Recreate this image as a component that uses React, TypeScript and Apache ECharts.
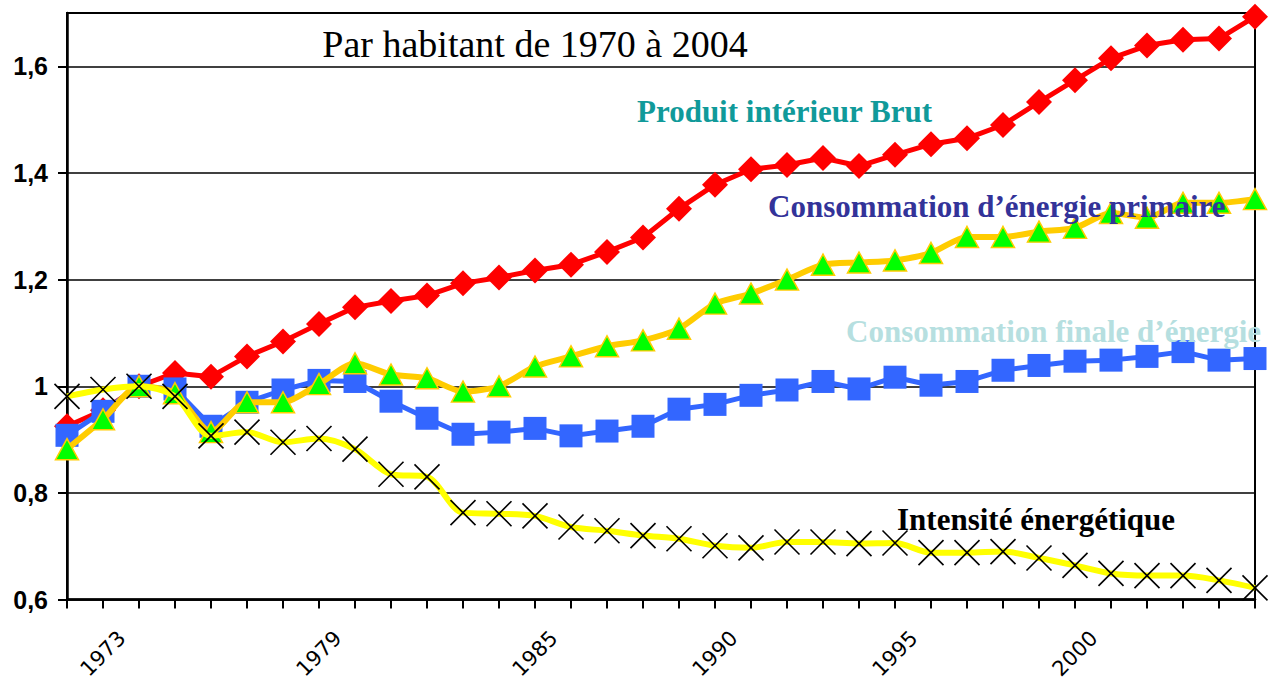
import React, { useEffect, useRef } from "react";
import * as echarts from "echarts";

const years: string[] = [
  "1972","1973","1974","1975","1976","1977","1978","1979","1980","1981","1982",
  "1983","1984","1985","1986","1987","1988","1989","1990","1991","1992","1993",
  "1994","1995","1996","1997","1998","1999","2000","2001","2002","2003","2004","2005",
];
const shownYears: string[] = ["1973", "1979", "1985", "1990", "1995", "2000"];

const pib: number[] = [
  0.925, 0.955, 1.0, 1.025, 1.018, 1.056, 1.084, 1.117, 1.148, 1.16, 1.17,
  1.193, 1.204, 1.217, 1.228, 1.252, 1.279, 1.333, 1.378, 1.407, 1.415, 1.428,
  1.413, 1.434, 1.454, 1.465, 1.49, 1.533, 1.574, 1.615, 1.639, 1.65, 1.652, 1.693,
];
const finale: number[] = [
  0.908, 0.953, 1.0, 0.995, 0.925, 0.97, 0.993, 1.011, 1.009, 0.972, 0.94,
  0.91, 0.914, 0.921, 0.907, 0.916, 0.925, 0.957, 0.966, 0.983, 0.993, 1.009,
  0.995, 1.017, 1.002, 1.009, 1.03, 1.039, 1.047, 1.049, 1.056, 1.065, 1.049, 1.052,
];
const primaire: number[] = [
  0.882, 0.938, 1.0, 0.987, 0.914, 0.97, 0.97, 1.004, 1.043, 1.022, 1.015,
  0.99, 1.0, 1.037, 1.056, 1.075, 1.086, 1.108, 1.155, 1.174, 1.2, 1.228,
  1.232, 1.236, 1.25, 1.28, 1.28, 1.29, 1.297, 1.325, 1.316, 1.344, 1.344, 1.351,
];
const intensite: number[] = [
  0.981, 0.994, 1.0, 0.981, 0.907, 0.914, 0.895, 0.902, 0.882, 0.835, 0.83,
  0.763, 0.761, 0.757, 0.736, 0.729, 0.72, 0.714, 0.701, 0.697, 0.708, 0.708,
  0.705, 0.706, 0.688, 0.688, 0.69, 0.678, 0.664, 0.649, 0.645, 0.645, 0.636, 0.622,
];
const yTicks: number[] = [0.6, 0.8, 1, 1.2, 1.4, 1.6];

const titleText = "Par habitant de 1970 à 2004";
const labelPib = "Produit intérieur Brut";
const labelPrimaire = "Consommation d\u2019énergie primaire";
const labelFinale = "Consommation finale d\u2019énergie";
const labelIntensite = "Intensité énergétique";

export default function App() {
  const ref = useRef<HTMLDivElement>(null);
  useEffect(() => {
    if (!ref.current) return;
    const chart = echarts.init(ref.current, null, { renderer: "svg" });
    const serifBold = {
      fontFamily: "'Liberation Serif', 'Times New Roman', serif",
      fontWeight: "bold" as const,
      fontSize: 31,
    };
    chart.setOption({
      animation: false,
      backgroundColor: "#fff",
      grid: {
        left: 67,
        right: 17,
        top: 13,
        bottom: 81,
        show: true,
        borderColor: "#000",
        borderWidth: 2,
        backgroundColor: "transparent",
      },
      xAxis: {
        type: "category",
        data: years,
        boundaryGap: false,
        axisLine: { lineStyle: { color: "#000", width: 2.5 } },
        axisTick: { interval: 0, length: 9, lineStyle: { color: "#000", width: 2 } },
        splitLine: { show: false },
        axisLabel: {
          interval: (_i: number, v: string) => shownYears.includes(v),
          rotate: 45,
          align: "center",
          verticalAlign: "middle",
          margin: 54,
          color: "#000",
          fontFamily: "'DejaVu Sans', sans-serif",
          fontSize: 21,
        },
      },
      yAxis: {
        type: "value",
        min: 0.6,
        max: 1.7,
        interval: 0.2,
        axisLine: { show: true, lineStyle: { color: "#000", width: 2.5 } },
        axisTick: {
          show: true,
          length: 9,
          customValues: yTicks,
          lineStyle: { color: "#000", width: 2 },
        },
        splitLine: { show: true, lineStyle: { color: "#000", width: 1.5 } },
        axisLabel: {
          customValues: yTicks,
          margin: 19,
          color: "#000",
          fontFamily: "'Liberation Sans', Arial, sans-serif",
          fontWeight: "bold",
          fontSize: 25,
          formatter: (v: number) => {
            const r = Math.round(v * 10) / 10;
            if (Math.abs(r - 1.7) < 1e-6) return "";
            return String(r).replace(".", ",");
          },
        },
      },
      series: [
        {
          name: labelPib,
          type: "line",
          data: pib,
          showAllSymbol: true,
          symbol: "diamond",
          symbolSize: 26,
          lineStyle: { color: "#ff0000", width: 5 },
          itemStyle: { color: "#ff0000" },
          z: 2,
        },
        {
          name: labelFinale,
          type: "line",
          data: finale,
          showAllSymbol: true,
          symbol: "rect",
          symbolSize: 23,
          lineStyle: { color: "#3366ff", width: 5 },
          itemStyle: { color: "#3366ff" },
          z: 3,
        },
        {
          name: labelPrimaire,
          type: "line",
          data: primaire,
          showAllSymbol: true,
          smooth: 0.25,
          symbol: "triangle",
          symbolSize: [23, 21],
          lineStyle: { color: "#ffcc00", width: 6 },
          itemStyle: { color: "#00ff00", borderColor: "#ffcc00", borderWidth: 1.5 },
          z: 4,
        },
        {
          name: labelIntensite,
          type: "line",
          data: intensite,
          showAllSymbol: true,
          smooth: 0.3,
          symbol: "path://M0 0L24 24M24 0L0 24",
          symbolSize: 25,
          lineStyle: { color: "#ffff00", width: 6 },
          itemStyle: { color: "transparent", borderColor: "#000", borderWidth: 1.6 },
          z: 5,
        },
      ],
      graphic: [
        {
          type: "text",
          z: 10,
          style: {
            text: titleText,
            x: 535,
            y: 44,
            align: "center",
            verticalAlign: "middle",
            fill: "#000",
            fontFamily: "'Liberation Serif', 'Times New Roman', serif",
            fontSize: 38,
          },
        },
        {
          type: "text",
          style: { text: labelPib, x: 637, y: 111, verticalAlign: "middle", fill: "#109a9a", ...serifBold },
          z: 10,
        },
        {
          type: "text",
          style: { text: labelPrimaire, x: 768, y: 206, verticalAlign: "middle", fill: "#333399", ...serifBold },
          z: 10,
        },
        {
          type: "text",
          style: { text: labelFinale, x: 846, y: 331, verticalAlign: "middle", fill: "#b6dfe0", ...serifBold },
          z: 10,
        },
        {
          type: "text",
          style: { text: labelIntensite, x: 897, y: 519, verticalAlign: "middle", fill: "#000", ...serifBold },
          z: 10,
        },
      ],
    });
    return () => chart.dispose();
  }, []);
  return (
    <div
      ref={ref}
      style={{ position: "fixed", left: 0, top: 0, width: 1272, height: 682 }}
    />
  );
}
